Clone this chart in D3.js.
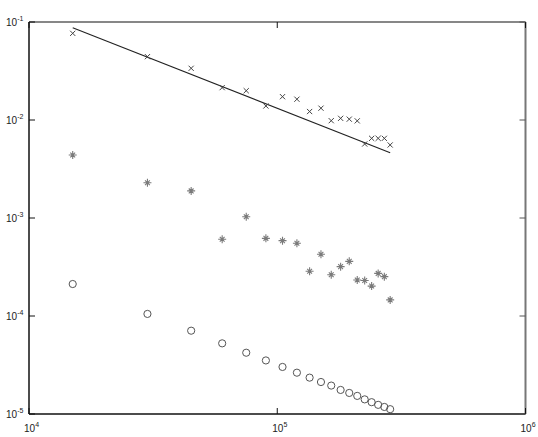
<!DOCTYPE html>
<html>
<head>
<meta charset="utf-8">
<script src="https://cdn.jsdelivr.net/npm/d3@7/dist/d3.min.js"></script>
<style>
  html, body { margin: 0; padding: 0; background: #fff; }
  svg { display: block; }
  text { font-family: "Liberation Sans", Arial, sans-serif; fill: #222; }
</style>
</head>
<body>
<svg id="chart" width="538" height="437"></svg>
<script>
// ---- data ----
const xValues = [15000, 30000, 45000, 60000, 75000, 90000, 105000, 120000, 135000, 150000,
                 165000, 180000, 195000, 210000, 225000, 240000, 255000, 270000, 285000];
const crossValues = [0.0766, 0.0443, 0.0337, 0.0214, 0.0199, 0.0139, 0.0173, 0.0163, 0.0122, 0.0132,
                     0.00984, 0.0104, 0.0102, 0.0098, 0.00569, 0.0065, 0.0065, 0.0065, 0.00556];
const starValues = [0.00439, 0.00229, 0.00189, 0.000606, 0.00103, 0.00062, 0.000587, 0.000552, 0.000286, 0.000426,
                    0.000264, 0.000319, 0.000361, 0.000233, 0.00023, 0.000202, 0.000272, 0.000252, 0.000146];
const circleValues = [0.000212, 0.000105, 0.0000708, 0.0000526, 0.0000422, 0.0000352, 0.0000302, 0.0000264, 0.0000235, 0.0000212,
                      0.0000195, 0.0000176, 0.0000164, 0.0000153, 0.0000141, 0.0000132, 0.0000124, 0.0000118, 0.0000112];
const fitLine = [{x: 15000, y: 0.0875}, {x: 285000, y: 0.00464}];
const xTickValues = [1e4, 1e5, 1e6];
const xTickExps = ["4", "5", "6"];
const yTickValues = [1e-1, 1e-2, 1e-3, 1e-4, 1e-5];
const yTickExps = ["-1", "-2", "-3", "-4", "-5"];

// ---- layout ----
const svg = d3.select("#chart");
const L = 29, R = 525.5, T = 22, B = 414;
const x = d3.scaleLog().domain([1e4, 1e6]).range([L, R]);
const y = d3.scaleLog().domain([1e-5, 1e-1]).range([B, T]);

// frame
svg.append("line").attr("x1", L).attr("x2", R).attr("y1", T).attr("y2", T).attr("stroke", "#111").attr("stroke-width", 1.2);
svg.append("line").attr("x1", R).attr("x2", R).attr("y1", T).attr("y2", B).attr("stroke", "#777").attr("stroke-width", 2);
svg.append("line").attr("x1", L).attr("x2", R).attr("y1", B).attr("y2", B).attr("stroke", "#111").attr("stroke-width", 1.5);
svg.append("line").attr("x1", L).attr("x2", L).attr("y1", T).attr("y2", B).attr("stroke", "#111").attr("stroke-width", 1.5);

// ticks (inward, all four sides)
const tl = 6;
xTickValues.forEach(v => {
  const px = x(v);
  svg.append("line").attr("x1", px).attr("x2", px).attr("y1", B).attr("y2", B - tl).attr("stroke", "#111");
  svg.append("line").attr("x1", px).attr("x2", px).attr("y1", T).attr("y2", T + tl).attr("stroke", "#111");
});
yTickValues.forEach(v => {
  const py = y(v);
  svg.append("line").attr("x1", L).attr("x2", L + tl).attr("y1", py).attr("y2", py).attr("stroke", "#111");
  svg.append("line").attr("x1", R).attr("x2", R - tl).attr("y1", py).attr("y2", py).attr("stroke", "#555");
});

// tick labels
xTickValues.forEach((v, i) => {
  const t = svg.append("text").attr("x", x(v) - 5).attr("y", 432).attr("font-size", 10);
  t.append("tspan").text("10");
  t.append("tspan").attr("dy", -5).attr("font-size", 7).text(xTickExps[i]);
});
yTickValues.forEach((v, i) => {
  const t = svg.append("text").attr("x", 6).attr("y", y(v) + 4).attr("font-size", 10);
  t.append("tspan").text("10");
  t.append("tspan").attr("dy", -5).attr("font-size", 7).text(yTickExps[i]);
});

// fit line
const line = d3.line().x(d => x(d.x)).y(d => y(d.y));
svg.append("path").datum(fitLine).attr("d", line).attr("fill", "none").attr("stroke", "#222").attr("stroke-width", 1.1);

// cross markers
const cs = 2.6;
const crossG = svg.append("g").attr("stroke", "#444").attr("stroke-width", 1);
xValues.forEach((xv, i) => {
  const px = x(xv), py = y(crossValues[i]);
  crossG.append("path").attr("d", `M${px - cs},${py - cs}L${px + cs},${py + cs}M${px - cs},${py + cs}L${px + cs},${py - cs}`);
});

// star markers
const ss = 4, sd = 2.4;
const starG = svg.append("g").attr("stroke", "#7a7a7a").attr("stroke-width", 1.1);
xValues.forEach((xv, i) => {
  const px = x(xv), py = y(starValues[i]);
  starG.append("path").attr("d",
    `M${px - ss},${py}L${px + ss},${py}M${px},${py - ss}L${px},${py + ss}` +
    `M${px - sd},${py - sd}L${px + sd},${py + sd}M${px - sd},${py + sd}L${px + sd},${py - sd}`);
});

// circle markers
svg.append("g").selectAll("circle").data(xValues).join("circle")
  .attr("cx", d => x(d))
  .attr("cy", (d, i) => y(circleValues[i]))
  .attr("r", 3.6)
  .attr("fill", "none")
  .attr("stroke", "#555")
  .attr("stroke-width", 1);
</script>
</body>
</html>
